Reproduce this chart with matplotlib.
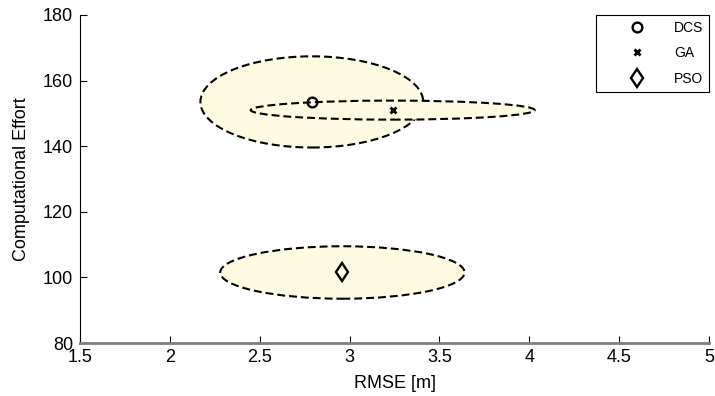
import numpy as np
import matplotlib
matplotlib.use('Agg')
import matplotlib.pyplot as plt
from matplotlib.patches import Ellipse

plt.rcParams['font.family'] = ['Liberation Sans', 'DejaVu Sans']

# data
methods = ['DCS', 'GA', 'PSO']
rmse_mean = [2.79, 3.24, 2.96]
effort_mean = [153.5, 151.0, 101.5]
rmse_halfwidth = [0.62, 0.79, 0.68]
effort_halfwidth = [13.9, 2.9, 8.0]
markers = ['o', 'x', 'd']
marker_sizes = [7, 5, 9.5]

x_ticks = [1.5, 2, 2.5, 3, 3.5, 4, 4.5, 5]
y_ticks = [80, 100, 120, 140, 160, 180]

fig = plt.figure(figsize=(7.15, 3.96), dpi=100)
ax = fig.add_axes([80 / 715, 1 - 343 / 396, 629 / 715, 328 / 396])

fill_color = '#fdfbe1'
for i in range(len(methods)):
    e = Ellipse((rmse_mean[i], effort_mean[i]), 2 * rmse_halfwidth[i], 2 * effort_halfwidth[i],
                facecolor=fill_color, edgecolor='black', linewidth=1.5,
                linestyle=(0, (3.8, 1.9)), zorder=2 + i)
    ax.add_patch(e)

for i in range(len(methods)):
    ax.plot(rmse_mean[i], effort_mean[i], linestyle='none', marker=markers[i],
            markersize=marker_sizes[i], markerfacecolor='none', markeredgecolor='black',
            markeredgewidth=1.7 if markers[i] != 'x' else 2.0, label=methods[i], zorder=10)

ax.set_xlim(1.5, 5)
ax.set_ylim(80, 180)
ax.set_xticks(x_ticks)
ax.set_xticklabels(['1.5', '2', '2.5', '3', '3.5', '4', '4.5', '5'])
ax.set_yticks(y_ticks)
ax.tick_params(direction='in', length=5, width=0.8, labelsize=13)
ax.tick_params(axis='x', pad=4.5)
ax.tick_params(axis='y', pad=5)
ax.spines['top'].set_visible(False)
ax.spines['right'].set_visible(False)
ax.spines['left'].set_linewidth(0.8)
ax.spines['bottom'].set_color('#7f7f7f')
ax.spines['bottom'].set_linewidth(2)

ax.set_xlabel('RMSE [m]', fontsize=13, labelpad=6)
ax.set_ylabel('Computational Effort', fontsize=13, labelpad=9)

leg = ax.legend(loc='upper right', bbox_to_anchor=(1.0, 1.0), fontsize=10, frameon=True,
                fancybox=False, edgecolor='black', framealpha=1, labelspacing=0.85,
                handlelength=5.1, handletextpad=0.1, borderpad=0.4, borderaxespad=0.0)
leg.get_frame().set_linewidth(0.8)

fig.savefig('out.png', dpi=100)
